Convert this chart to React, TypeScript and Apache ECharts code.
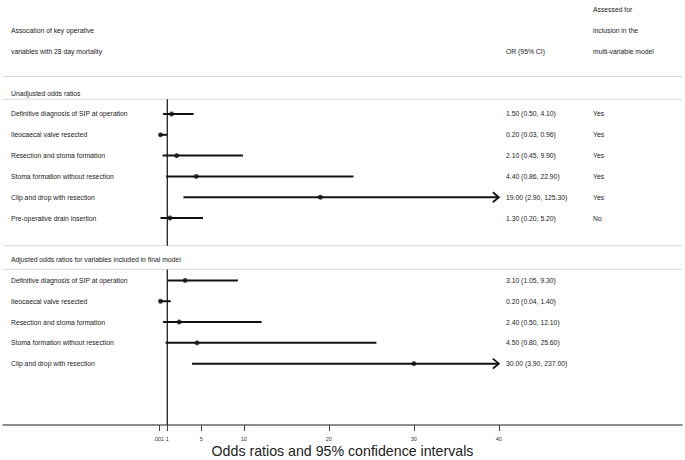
import React, { useEffect, useRef } from "react";
import * as echarts from "echarts";

// ---- data ----
const headerLeft = ["Assocation of key operative", "variables with 28 day mortality"];
const headerOR = "OR (95% CI)";
const headerAssessed = ["Assessed for", "inclusion in the", "multi-variable model"];

const unadjustedTitle = "Unadjusted odds ratios";
const unadjustedLabels = [
  "Definitive diagnosis of SIP at operation",
  "Ileocaecal valve resected",
  "Resection and stoma formation",
  "Stoma formation without resection",
  "Clip and drop with resection",
  "Pre-operative drain insertion",
];
const unadjustedOR = [1.5, 0.2, 2.1, 4.4, 19.0, 1.3];
const unadjustedLower = [0.5, 0.03, 0.45, 0.86, 2.9, 0.2];
const unadjustedUpper = [4.1, 0.96, 9.9, 22.9, 125.3, 5.2];
const unadjustedAssessed = ["Yes", "Yes", "Yes", "Yes", "Yes", "No"];

const adjustedTitle = "Adjusted odds ratios for variables included in final model";
const adjustedLabels = [
  "Definitive diagnosis of SIP at operation",
  "Ileocaecal valve resected",
  "Resection and stoma formation",
  "Stoma formation without resection",
  "Clip and drop with resection",
];
const adjustedOR = [3.1, 0.2, 2.4, 4.5, 30.0];
const adjustedLower = [1.05, 0.04, 0.5, 0.8, 3.9];
const adjustedUpper = [9.3, 1.4, 12.1, 25.6, 237.0];

const tickValues = [0.001, 1, 5, 10, 20, 30, 40];
const tickLabels = [".001", "1", "5", "10", "20", "30", "40"];
const axisTitle = "Odds ratios and 95% confidence intervals";
const referenceValue = 1;
const axisEnd = 40;

// ---- layout ----
const X_MIN = -18.33;
const X_MAX = 61.55;
const Y_MIN = -0.48;
const Y_MAX = 19.95;
const COL_LABEL = 11;
const COL_OR = 506;
const COL_ASSESS = 593;
const SEPARATOR_ROWS = [3.2, 4.29, 11.33, 12.47];
const REF_SEGMENTS = [
  [4.29, 11.33],
  [12.47, Y_MAX],
];
const FONT = "'Liberation Sans', Arial, sans-serif";
const TEXT_SIZE = 6.8;
const TEXT_COLOR = "#222";

const fmt = (v: number) => v.toFixed(2);

type TextItem = { row: number; x: number; text: string };

function buildTexts(): TextItem[] {
  const t: TextItem[] = [];
  t.push({ row: 0, x: COL_ASSESS, text: headerAssessed[0] });
  t.push({ row: 1, x: COL_LABEL, text: headerLeft[0] });
  t.push({ row: 1, x: COL_ASSESS, text: headerAssessed[1] });
  t.push({ row: 2, x: COL_LABEL, text: headerLeft[1] });
  t.push({ row: 2, x: COL_OR, text: headerOR });
  t.push({ row: 2, x: COL_ASSESS, text: headerAssessed[2] });
  t.push({ row: 4, x: COL_LABEL, text: unadjustedTitle });
  unadjustedLabels.forEach((l, i) => {
    const row = 5 + i;
    t.push({ row, x: COL_LABEL, text: l });
    t.push({
      row,
      x: COL_OR,
      text: `${fmt(unadjustedOR[i])} (${fmt(unadjustedLower[i])}, ${fmt(unadjustedUpper[i])})`,
    });
    t.push({ row, x: COL_ASSESS, text: unadjustedAssessed[i] });
  });
  t.push({ row: 12, x: COL_LABEL, text: adjustedTitle });
  adjustedLabels.forEach((l, i) => {
    const row = 13 + i;
    t.push({ row, x: COL_LABEL, text: l });
    t.push({
      row,
      x: COL_OR,
      text: `${fmt(adjustedOR[i])} (${fmt(adjustedLower[i])}, ${fmt(adjustedUpper[i])})`,
    });
  });
  return t;
}

export default function App() {
  const ref = useRef<HTMLDivElement>(null);

  useEffect(() => {
    if (!ref.current) return;
    const chart = echarts.init(ref.current, undefined, { renderer: "svg" });

    const texts = buildTexts();
    const ciData: number[][] = [];
    const pointData: number[][] = [];
    unadjustedOR.forEach((v, i) => {
      ciData.push([5 + i, unadjustedLower[i], unadjustedUpper[i]]);
      pointData.push([v, 5 + i]);
    });
    adjustedOR.forEach((v, i) => {
      ciData.push([13 + i, adjustedLower[i], adjustedUpper[i]]);
      pointData.push([v, 13 + i]);
    });

    const option: any = {
      animation: false,
      backgroundColor: "#fff",
      textStyle: { fontFamily: FONT },
      grid: {
        left: 3,
        right: 3,
        top: 0,
        bottom: 35,
        containLabel: false,
        outerBoundsMode: "none",
      },
      xAxis: {
        type: "value",
        position: "bottom",
        min: X_MIN,
        max: X_MAX,
        splitLine: { show: false },
        axisLine: { show: true, onZero: false, lineStyle: { color: "#6a6a6a", width: 1.6 } },
        axisTick: {
          show: true,
          customValues: tickValues,
          length: 6,
          lineStyle: { color: "#444", width: 1 },
        },
        axisLabel: {
          show: true,
          customValues: tickValues,
          fontSize: 5.5,
          color: "#333",
          margin: 11,
          fontFamily: FONT,
          formatter: (v: number) => {
            const idx = tickValues.findIndex((t) => Math.abs(t - v) < 1e-9);
            return idx >= 0 ? tickLabels[idx] : "";
          },
        },
        name: axisTitle,
        nameLocation: "middle",
        nameGap: 19,
        nameMoveOverlap: false,
        nameTextStyle: { fontSize: 14.2, color: "#222", fontFamily: FONT },
      },
      yAxis: {
        type: "value",
        inverse: true,
        min: Y_MIN,
        max: Y_MAX,
        show: false,
        splitLine: { show: false },
      },
      series: [
        {
          type: "custom",
          name: "frame",
          silent: true,
          clip: false,
          data: [[0]],
          renderItem: (_params: any, api: any) => {
            const children: any[] = [];
            SEPARATOR_ROWS.forEach((r) => {
              const a = api.coord([X_MIN, r]);
              const b = api.coord([X_MAX, r]);
              children.push({
                type: "line",
                shape: { x1: a[0], y1: a[1], x2: b[0], y2: b[1] },
                style: { stroke: "#d8d8d8", lineWidth: 1 },
              });
            });
            REF_SEGMENTS.forEach(([r0, r1]) => {
              const t = api.coord([referenceValue, r0]);
              const bt = api.coord([referenceValue, r1]);
              children.push({
                type: "line",
                shape: { x1: t[0], y1: t[1], x2: bt[0], y2: bt[1] },
                style: { stroke: "#222", lineWidth: 1.3 },
              });
            });
            return { type: "group", children };
          },
        },
        {
          type: "custom",
          name: "texts",
          silent: true,
          clip: false,
          data: texts.map((t) => [t.row]),
          renderItem: (params: any, api: any) => {
            const item = texts[params.dataIndex];
            const y = api.coord([0, item.row])[1];
            return {
              type: "text",
              x: item.x,
              y,
              style: {
                text: item.text,
                fontSize: TEXT_SIZE,
                fontFamily: FONT,
                fill: TEXT_COLOR,
                verticalAlign: "middle",
                align: "left",
              },
            };
          },
        },
        {
          type: "custom",
          name: "ci",
          silent: true,
          clip: false,
          data: ciData,
          renderItem: (_params: any, api: any) => {
            const row = api.value(0);
            const lo = api.value(1);
            const hi = api.value(2);
            const clipped = hi > axisEnd;
            const a = api.coord([lo, row]);
            const b = api.coord([Math.min(hi, axisEnd), row]);
            const children: any[] = [
              {
                type: "line",
                shape: { x1: a[0], y1: a[1], x2: b[0], y2: b[1] },
                style: { stroke: "#111", lineWidth: 2 },
              },
            ];
            if (clipped) {
              children.push({
                type: "polyline",
                shape: {
                  points: [
                    [b[0] - 6, b[1] - 5],
                    [b[0], b[1]],
                    [b[0] - 6, b[1] + 5],
                  ],
                },
                style: { stroke: "#111", lineWidth: 1.8, fill: "none" },
              });
            }
            return { type: "group", children };
          },
        },
        {
          type: "scatter",
          name: "OR",
          silent: true,
          data: pointData,
          symbol: "circle",
          symbolSize: 5,
          itemStyle: { color: "#111" },
        },
      ],
    };

    chart.setOption(option);
    return () => chart.dispose();
  }, []);

  return (
    <div
      ref={ref}
      style={{ position: "fixed", left: 0, top: 0, width: 685, height: 460, background: "#fff" }}
    />
  );
}
